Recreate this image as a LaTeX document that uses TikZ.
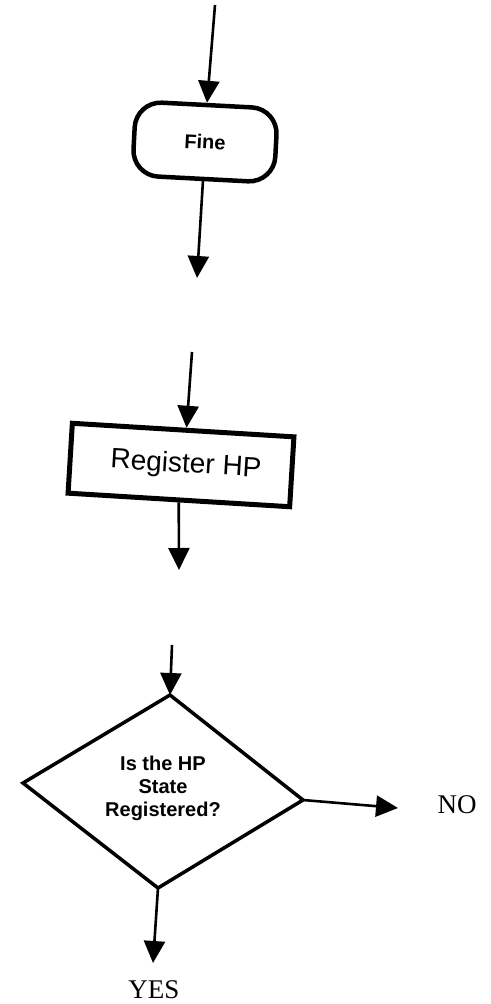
\documentclass[tikz,border=0pt]{standalone}
\usepackage{fontspec}
\setmainfont{Liberation Serif}
\newfontfamily\arialf{Liberation Sans}
\usetikzlibrary{arrows.meta}
\begin{document}
\begin{tikzpicture}[x=1pt,y=-1pt,
  conn/.style={line width=2.6pt,-{Triangle[length=22pt,width=21pt]}},
  termbox/.style={draw,line width=4.5pt,rounded corners=26pt,minimum width=142pt,minimum height=74pt,inner sep=0pt,font=\arialf\bfseries\fontsize{20}{20}\selectfont},
  procbox/.style={draw,line width=5pt,minimum width=222pt,minimum height=70pt,inner sep=0pt,font=\arialf\fontsize{28}{28}\selectfont},
  diamline/.style={line width=3.5pt,line join=miter},
  dtext/.style={align=center,inner sep=0pt,font=\arialf\bfseries\fontsize{20}{23}\selectfont},
  answer/.style={inner sep=0pt,font=\fontsize{27}{27}\selectfont}]
\useasboundingbox (0,0) rectangle (490,1004);
% Terminal
\node[termbox,rotate=-3] (fine) at (205,142) {Fine};
\coordinate (s1) at (215,5);
\coordinate (e1) at (197,278);
\draw[conn] (s1) -- (fine.north);
\draw[conn] (fine.south) -- (e1);
% Process
\node[procbox,rotate=-3.5] (reg) at (181,465) {\hspace*{10pt}Register HP};
\coordinate (s2) at (192,352);
\coordinate (e2) at (179,570);
\draw[conn] (s2) -- (reg.85);
\draw[conn] (reg.south) -- (e2);
% Decision
\coordinate (dT) at (170,695);
\coordinate (dR) at (303,800);
\coordinate (dB) at (158,888);
\coordinate (dL) at (23,783);
\draw[diamline] (dT) -- (dR) -- (dB) -- (dL) -- cycle;
\node[dtext] (dq) at (163,788) {Is the HP\\State\\Registered?};
\coordinate (s3) at (172,645);
\coordinate (e3) at (398,808);
\coordinate (e4) at (153,963);
\draw[conn] (s3) -- (dT);
\draw[conn] (dR) -- (e3);
\draw[conn] (dB) -- (e4);
\node[answer] (no) at (457,805) {NO};
\node[answer] (yes) at (154,990) {YES};
\end{tikzpicture}
\end{document}
